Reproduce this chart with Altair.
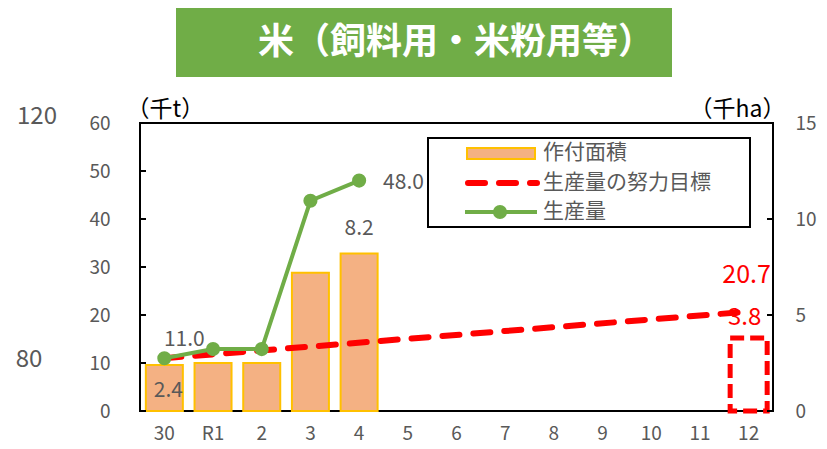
import altair as alt
import pandas as pd

FONT = "Noto Sans CJK JP"
GRAY = "#595959"
GREEN = "#70AD47"
RED = "#FF0000"
BAR_FILL = "#F4B183"
BAR_EDGE = "#FFC000"

# ---- data ----
categories = ["30", "R1", "2", "3", "4", "5", "6", "7", "8", "9", "10", "11", "12"]
area_years = ["30", "R1", "2", "3", "4"]
area_values = [2.4, 2.5, 2.5, 7.2, 8.2]            # 千ha (right axis)
prod_years = ["30", "R1", "2", "3", "4"]
prod_values = [11.0, 12.9, 12.9, 43.8, 48.0]       # 千t (left axis)
target_years = ["30", "12"]
target_values = [11.0, 20.7]                       # 千t
target_area_years = ["12"]
target_area_values = [3.8]                         # 千ha
left_ticks = [0, 10, 20, 30, 40, 50, 60]
right_ticks = [0, 5, 10, 15]
legend_labels = ["作付面積", "生産量の努力目標", "生産量"]
title_text = "米（飼料用・米粉用等）"
stray_labels = ["120", "80"]

area_df = pd.DataFrame({"year": area_years, "value": area_values})
prod_df = pd.DataFrame({"year": prod_years, "value": prod_values})
target_df = pd.DataFrame({"year": target_years, "value": target_values})
tarea_df = pd.DataFrame({"year": target_area_years, "value": target_area_values})
lt_df = pd.DataFrame({"value": left_ticks})
rt_df = pd.DataFrame({"value": right_ticks})
one = pd.DataFrame({"k": [0]})

xscale = alt.Scale(domain=categories, paddingInner=0.24, paddingOuter=0.12)
xaxis = alt.Axis(title=None, labelAngle=0, ticks=False, domain=False, grid=False,
                 labelPadding=13, labelFontSize=19, labelColor=GRAY, labelFont=FONT)


def X():
    return alt.X("year:N", scale=xscale, sort=categories, axis=xaxis)


def YL(axis=None):
    return alt.Y("value:Q", scale=alt.Scale(domain=[0, 60], nice=False), axis=axis)


def YR(axis=None):
    return alt.Y("value:Q", scale=alt.Scale(domain=[0, 15], nice=False), axis=axis)


left_axis = alt.Axis(orient="left", values=left_ticks, title="（千t）", titleAngle=0,
                     titleAlign="left", titleBaseline="alphabetic", titleX=-14, titleY=-7,
                     titleFontSize=23, titleFontWeight="normal", titleColor="black",
                     titleFont=FONT, labelFont=FONT, labelFontSize=19, labelColor=GRAY,
                     labelPadding=30, ticks=False, domain=False, grid=False)
right_axis = alt.Axis(orient="right", values=right_ticks, title="（千ha）", titleAngle=0,
                      titleAlign="right", titleBaseline="alphabetic", titleX=12, titleY=-7,
                      titleFontSize=23, titleFontWeight="normal", titleColor="black",
                      titleFont=FONT, labelFont=FONT, labelFontSize=19, labelColor=GRAY,
                      labelPadding=22, ticks=False, domain=False, grid=False)

bars = alt.Chart(area_df).mark_bar(fill=BAR_FILL, stroke=BAR_EDGE, strokeWidth=2).encode(
    x=X(), y=YR(right_axis))

tbar = alt.Chart(tarea_df).mark_bar(fill="transparent", stroke=RED, strokeWidth=5,
                                    strokeDash=[14, 6]).encode(x=X(), y=YR())

tline = alt.Chart(target_df).mark_line(color=RED, strokeWidth=6, strokeDash=[17, 14],
                                       strokeCap="round").encode(x=X(), y=YL())

pline = alt.Chart(prod_df).mark_line(
    color=GREEN, strokeWidth=4,
    point=alt.OverlayMarkDef(color=GREEN, filled=True, size=200, opacity=1)
).encode(x=X(), y=YL(left_axis))

lticks = alt.Chart(lt_df).mark_rule(color="black", strokeWidth=2).encode(
    x=alt.value(0), x2=alt.value(6), y=YL())
rticks = alt.Chart(rt_df).mark_rule(color="black", strokeWidth=2).encode(
    x=alt.value(627), x2=alt.value(633), y=YR())

# data labels
lab_prod_first = alt.Chart(prod_df[prod_df.year == "30"]).mark_text(
    font=FONT, fontSize=21, color=GRAY, dx=20, dy=-18, baseline="middle"
).encode(x=X(), y=YL(), text=alt.Text("value:Q", format=".1f"))
lab_prod_last = alt.Chart(prod_df[prod_df.year == "4"]).mark_text(
    font=FONT, fontSize=21, color=GRAY, dx=24, dy=2, align="left", baseline="middle"
).encode(x=X(), y=YL(), text=alt.Text("value:Q", format=".1f"))
lab_area_first = alt.Chart(area_df[area_df.year == "30"]).mark_text(
    font=FONT, fontSize=21, color=GRAY, dx=4, dy=26, baseline="middle"
).encode(x=X(), y=YR(), text=alt.Text("value:Q", format=".1f"))
lab_area_last = alt.Chart(area_df[area_df.year == "4"]).mark_text(
    font=FONT, fontSize=21, color=GRAY, dx=0, dy=-25, baseline="middle"
).encode(x=X(), y=YR(), text=alt.Text("value:Q", format=".1f"))
lab_target = alt.Chart(target_df[target_df.year == "12"]).mark_text(
    font=FONT, fontSize=25, color=RED, dx=-2, dy=-37, baseline="middle"
).encode(x=X(), y=YL(), text=alt.Text("value:Q", format=".1f"))
lab_tarea = alt.Chart(tarea_df).mark_text(
    font=FONT, fontSize=24, color=RED, dx=-4, dy=-20, baseline="middle"
).encode(x=X(), y=YR(), text=alt.Text("value:Q", format=".1f"))

# legend (drawn by hand)
leg_box = alt.Chart(one).mark_rect(fill="white", stroke="black", strokeWidth=2).encode(
    x=alt.value(288), x2=alt.value(610), y=alt.value(15), y2=alt.value(104))
leg_bar = alt.Chart(one).mark_rect(fill=BAR_FILL, stroke=BAR_EDGE, strokeWidth=2).encode(
    x=alt.value(327), x2=alt.value(395), y=alt.value(25), y2=alt.value(36))
leg_red = alt.Chart(one).mark_rule(color=RED, strokeWidth=6, strokeDash=[17, 14],
                                   strokeCap="round").encode(
    x=alt.value(328), x2=alt.value(397), y=alt.value(60))
leg_green = alt.Chart(one).mark_rule(color=GREEN, strokeWidth=4).encode(
    x=alt.value(325), x2=alt.value(397), y=alt.value(89))
leg_dot = alt.Chart(one).mark_point(color=GREEN, filled=True, size=200, opacity=1).encode(
    x=alt.value(360), y=alt.value(89))
leg_texts = [
    alt.Chart(one).mark_text(text=t, font=FONT, fontSize=21, color=GRAY, align="left",
                             baseline="middle").encode(x=alt.value(403), y=alt.value(yy))
    for t, yy in zip(legend_labels, [30, 60, 89])
]

# title box
title_box = alt.Chart(one).mark_rect(fill=GREEN).encode(
    x=alt.value(36), x2=alt.value(532), y=alt.value(-115), y2=alt.value(-46))
title_txt = alt.Chart(one).mark_text(text=title_text, font=FONT, fontSize=36,
                                     fontWeight="bold", color="white", baseline="middle").encode(
    x=alt.value(316), y=alt.value(-80))

# stray labels at far left
stray = [
    alt.Chart(one).mark_text(text=t, font=FONT, fontSize=24, color=GRAY,
                             baseline="middle").encode(x=alt.value(xx), y=alt.value(yy))
    for t, xx, yy in zip(stray_labels, [-103, -111], [-6, 237])
]

chart = alt.layer(
    bars, tbar, tline, pline, lticks, rticks,
    lab_prod_first, lab_prod_last, lab_area_first, lab_area_last, lab_target, lab_tarea,
    leg_box, leg_bar, leg_red, leg_green, leg_dot, *leg_texts,
    title_box, title_txt, *stray
).resolve_scale(y="independent").properties(
    width=633, height=288,
    autosize=alt.AutoSizeParams(type="none"),
    padding={"left": 132, "top": 115, "right": 46, "bottom": 36},
).configure_view(stroke="black", strokeWidth=2)

chart.save("out.html", embed_options={"renderer": "svg", "actions": False})
